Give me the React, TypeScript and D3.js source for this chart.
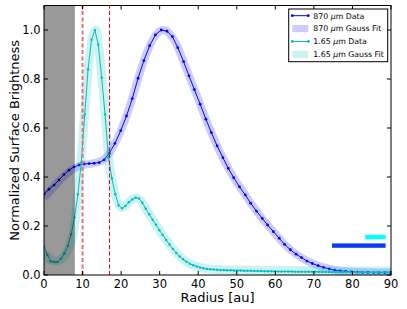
import * as d3 from "d3";

// 870 micron profile (data points)
const r870 = [0, 1.3, 2.6, 3.9, 5.2, 6.5, 7.8, 9.1, 10.4, 11.7, 13.0, 14.3, 15.6, 16.9, 18.4, 19.9, 21.4, 22.9, 24.4, 25.9, 27.4, 28.9, 30.4, 31.9, 33.3, 34.7, 36.2, 37.6, 39.0, 40.5, 42.0, 43.4, 44.9, 46.4, 47.8, 49.2, 50.7, 52.2, 53.6, 55.1, 56.6, 58.0, 59.5, 61.0, 62.4, 63.9, 65.4, 66.8, 68.2, 69.6, 71.1, 72.5, 74.0, 75.4, 76.8, 78.3, 79.7, 81.2, 82.6, 84.0, 85.5, 86.9, 88.4, 89.8];
const v870 = [0.33, 0.35, 0.367, 0.388, 0.41, 0.428, 0.441, 0.449, 0.453, 0.455, 0.456, 0.459, 0.47, 0.497, 0.537, 0.589, 0.649, 0.72, 0.803, 0.875, 0.936, 0.98, 1.0, 0.995, 0.973, 0.928, 0.871, 0.813, 0.757, 0.697, 0.636, 0.581, 0.527, 0.479, 0.435, 0.397, 0.36, 0.327, 0.293, 0.261, 0.231, 0.204, 0.177, 0.15, 0.125, 0.103, 0.085, 0.071, 0.057, 0.047, 0.038, 0.031, 0.025, 0.02, 0.017, 0.015, 0.013, 0.012, 0.011, 0.011, 0.01, 0.01, 0.01, 0.01];

// 870 micron gauss fit
const fit870R = [0, 2, 4, 6, 8, 10, 12, 14, 16, 18, 20, 22, 24, 26, 28, 30, 31, 32, 34, 36, 38, 40, 42, 44, 46, 48, 50, 52, 54, 56, 58, 60, 62, 64, 66, 68, 70, 72, 74, 76, 78, 80, 84, 90];
const fit870V = [0.315, 0.35, 0.385, 0.415, 0.437, 0.449, 0.454, 0.46, 0.478, 0.526, 0.592, 0.677, 0.78, 0.879, 0.954, 0.995, 1.0, 0.994, 0.952, 0.879, 0.797, 0.717, 0.636, 0.56, 0.49, 0.43, 0.378, 0.332, 0.285, 0.243, 0.204, 0.168, 0.132, 0.102, 0.079, 0.059, 0.045, 0.033, 0.025, 0.019, 0.015, 0.013, 0.011, 0.01];

// 1.65 micron profile (data points)
const r165 = [0, 0.88, 1.76, 2.64, 3.52, 4.4, 5.28, 6.16, 7.04, 7.92, 8.8, 9.68, 10.56, 11.44, 12.32, 13.2, 14.08, 14.96, 15.84, 16.72, 17.6, 18.48, 19.36, 20.24, 21.12, 22, 22.88, 23.76, 24.64, 25.52, 26.4, 27.28, 28.16, 29.04, 29.92, 30.8, 31.68, 32.56, 33.44, 34.32, 35.2, 36.08, 36.96, 37.84, 38.72, 39.6, 40.48, 41.36, 42.24, 43.12, 44, 44.88, 45.76, 46.64, 47.52, 48.4, 49.28, 50.16, 51.04, 51.92, 52.8, 53.68, 54.56, 55.44, 56.32, 57.2, 58.08, 58.96, 59.84, 60.72, 61.6, 62.48, 63.36, 64.24, 65.12, 66, 66.88, 67.76, 68.64, 69.52, 70.4, 71.28, 72.16, 73.04, 73.92, 74.8, 75.68, 76.56, 77.44, 78.32, 79.2, 80.08, 80.96, 81.84, 82.72, 83.6, 84.48, 85.36, 86.24, 87.12, 88, 88.88, 89.76];
const v165 = [0.116, 0.082, 0.056, 0.053, 0.053, 0.066, 0.088, 0.118, 0.165, 0.235, 0.33, 0.46, 0.655, 0.84, 0.96, 1.0, 0.94, 0.805, 0.655, 0.48, 0.395, 0.33, 0.285, 0.272, 0.282, 0.297, 0.308, 0.316, 0.312, 0.295, 0.27, 0.248, 0.226, 0.205, 0.183, 0.163, 0.143, 0.124, 0.106, 0.09, 0.076, 0.064, 0.054, 0.046, 0.04, 0.035, 0.031, 0.028, 0.025, 0.023, 0.022, 0.021, 0.02, 0.02, 0.019, 0.019, 0.018, 0.018, 0.018, 0.017, 0.017, 0.017, 0.016, 0.016, 0.016, 0.015, 0.015, 0.015, 0.015, 0.014, 0.014, 0.014, 0.014, 0.014, 0.013, 0.013, 0.013, 0.013, 0.013, 0.013, 0.013, 0.013, 0.012, 0.012, 0.012, 0.012, 0.012, 0.012, 0.012, 0.012, 0.012, 0.011, 0.011, 0.011, 0.011, 0.011, 0.011, 0.011, 0.011, 0.011, 0.011, 0.011, 0.011];

// 1.65 micron gauss fit
const fit165R = [0, 1, 2, 3, 4, 5, 6, 7, 8, 9, 10, 11, 12, 13, 13.5, 14, 15, 16, 17, 18, 19, 20, 21, 22, 23, 24, 25, 26, 27, 28, 29, 30, 31, 32, 33, 34, 35, 36, 37, 38, 39, 40, 42, 45, 50, 60, 70, 80, 90];
const fit165V = [0.09, 0.072, 0.06, 0.056, 0.06, 0.072, 0.095, 0.135, 0.21, 0.37, 0.55, 0.75, 0.92, 0.99, 1.0, 0.955, 0.81, 0.625, 0.45, 0.36, 0.3, 0.276, 0.281, 0.297, 0.31, 0.315, 0.305, 0.281, 0.255, 0.23, 0.206, 0.181, 0.158, 0.136, 0.115, 0.096, 0.079, 0.065, 0.054, 0.045, 0.038, 0.033, 0.026, 0.022, 0.02, 0.018, 0.017, 0.016, 0.016];

const xTicks = [0, 10, 20, 30, 40, 50, 60, 70, 80, 90];
const yTicks = [0, 0.2, 0.4, 0.6, 0.8, 1.0];

// shaded inner region, ring markers and beam sizes
const maskEdge = 8;
const ringLines = [10, 17];
const beams = [
  { x0: 83.3, x1: 88.6, y: 0.155, color: "#00ffff" },
  { x0: 74.7, x1: 88.6, y: 0.12, color: "#0a3cf0" },
];

const W = 407;
const H = 309;
const margin = { left: 44, right: 16, top: 5.5, bottom: 34 };
const font = "DejaVu Sans, Verdana, sans-serif";

export default function App() {
  const x = d3.scaleLinear().domain([0, 90]).range([margin.left, W - margin.right]);
  const y = d3.scaleLinear().domain([0, 1.1]).range([H - margin.bottom, margin.top]);

  const smooth = d3
    .line<[number, number]>()
    .x((d) => x(d[0]))
    .y((d) => y(d[1]))
    .curve(d3.curveCatmullRom);
  const straight = d3
    .line<[number, number]>()
    .x((d) => x(d[0]))
    .y((d) => y(d[1]));

  const pts870 = r870.map((r, i) => [r, v870[i]] as [number, number]);
  const pts165 = r165.map((r, i) => [r, v165[i]] as [number, number]);
  const f870 = fit870R.map((r, i) => [r, fit870V[i]] as [number, number]);
  const f165 = fit165R.map((r, i) => [r, fit165V[i]] as [number, number]);

  const [x0, x1] = x.range();
  const [yb, yt] = y.range();

  const legendItems = [
    { kind: "line", color: "#0000ff", label: "870" },
    { kind: "patch", color: "#0000ff", label: "870" },
    { kind: "line", color: "#00bfbf", label: "1.65" },
    { kind: "patch", color: "#00bfbf", label: "1.65" },
  ];

  return (
    <svg width={W} height={H} style={{ position: "absolute", left: 0, top: 0, background: "#fff" }} fontFamily={font}>
      <defs>
        <clipPath id="plot">
          <rect x={x0} y={yt} width={x1 - x0} height={yb - yt} />
        </clipPath>
      </defs>
      <g clipPath="url(#plot)">
        <path d={smooth(f870) ?? ""} fill="none" stroke="#0000ff" strokeOpacity={0.2} strokeWidth={8} />
        <path d={straight(pts870) ?? ""} fill="none" stroke="#0000ff" strokeWidth={1} />
        {pts870.map((p, i) => (
          <circle key={"b" + i} cx={x(p[0])} cy={y(p[1])} r={1.4} fill="#0000ff" />
        ))}
        <path d={smooth(f165) ?? ""} fill="none" stroke="#00bfbf" strokeOpacity={0.2} strokeWidth={9} />
        <path d={straight(pts165) ?? ""} fill="none" stroke="#00bfbf" strokeWidth={1} />
        {pts165.map((p, i) => (
          <circle key={"c" + i} cx={x(p[0])} cy={y(p[1])} r={1.25} fill="#00bfbf" />
        ))}
        <rect x={x(0)} y={yt} width={x(maskEdge) - x(0)} height={yb - yt} fill="#000" fillOpacity={0.4} />
        <line x1={x(ringLines[0])} x2={x(ringLines[0])} y1={yb} y2={yt} stroke="#f07070" strokeWidth={2} strokeDasharray="4 2.5" />
        <line x1={x(ringLines[1])} x2={x(ringLines[1])} y1={yb} y2={yt} stroke="#e00000" strokeWidth={1} strokeDasharray="4 2.5" />
        {beams.map((b, i) => (
          <rect key={i} x={x(b.x0)} y={y(b.y) - 2.2} width={x(b.x1) - x(b.x0)} height={4.4} fill={b.color} />
        ))}
      </g>

      {/* frame and ticks */}
      <rect x={x0} y={yt} width={x1 - x0} height={yb - yt} fill="none" stroke="#000" strokeWidth={1} />
      {xTicks.map((t) => (
        <g key={"xt" + t}>
          <line x1={x(t)} x2={x(t)} y1={yb} y2={yb - 4} stroke="#000" />
          <line x1={x(t)} x2={x(t)} y1={yt} y2={yt + 4} stroke="#000" />
          <text x={x(t)} y={287.5} textAnchor="middle" fontSize={11.5}>
            {t}
          </text>
        </g>
      ))}
      {yTicks.map((t) => (
        <g key={"yt" + t}>
          <line x1={x0} x2={x0 + 4} y1={y(t)} y2={y(t)} stroke="#000" />
          <line x1={x1} x2={x1 - 4} y1={y(t)} y2={y(t)} stroke="#000" />
          <text x={40.5} y={y(t) + 4} textAnchor="end" fontSize={11.5}>
            {t.toFixed(1)}
          </text>
        </g>
      ))}
      <text x={(x0 + x1) / 2} y={301.5} textAnchor="middle" fontSize={13}>
        Radius [au]
      </text>
      <text transform={`translate(18.8,${(yt + yb) / 2}) rotate(-90)`} textAnchor="middle" fontSize={13}>
        Normalized Surface Brightness
      </text>

      {/* legend */}
      <rect x={288.7} y={9} width={99} height={52.7} fill="#fff" stroke="#000" strokeWidth={1} />
      {legendItems.map((it, i) => {
        const cy = 15.7 + i * 12.9;
        return (
          <g key={"lg" + i}>
            {it.kind === "line" ? (
              <g>
                <line x1={292.3} x2={308.3} y1={cy} y2={cy} stroke={it.color} strokeWidth={1} />
                <circle cx={292.3} cy={cy} r={1.4} fill={it.color} />
                <circle cx={308.3} cy={cy} r={1.4} fill={it.color} />
              </g>
            ) : (
              <rect x={292.3} y={cy - 3.6} width={16} height={7.2} fill={it.color} fillOpacity={0.2} />
            )}
            <text x={313.3} y={cy + 2.8} fontSize={7.8}>
              {it.label} <tspan fontStyle="italic">μ</tspan>m {it.kind === "line" ? "Data" : "Gauss Fit"}
            </text>
          </g>
        );
      })}
    </svg>
  );
}
